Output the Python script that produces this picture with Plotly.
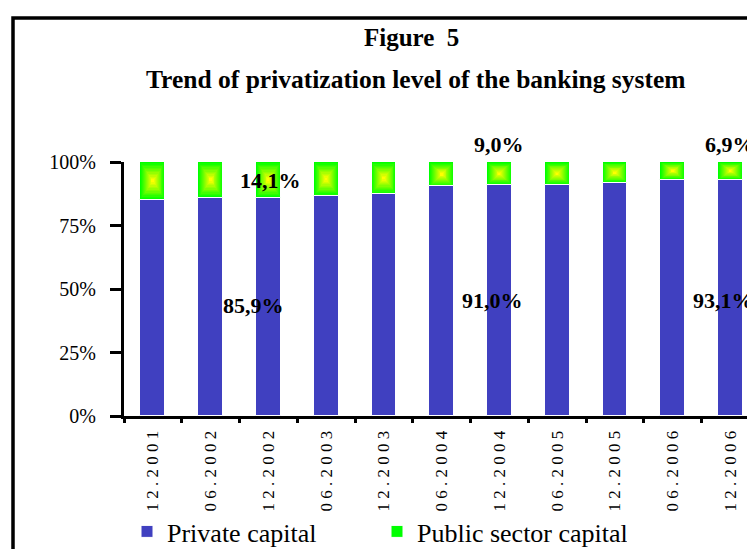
import plotly.graph_objects as go

# ---- data ----
periods = ["12.2001", "06.2002", "12.2002", "06.2003", "12.2003", "06.2004",
           "12.2004", "06.2005", "12.2005", "06.2006", "12.2006"]
private_capital = [85.1, 85.9, 85.9, 86.6, 87.4, 90.4, 91.0, 91.0, 91.8, 93.1, 93.1]
public_capital = [round(100 - v, 1) for v in private_capital]
y_ticks = [0, 25, 50, 75, 100]
y_tick_labels = ["0%", "25%", "50%", "75%", "100%"]
labels_public = ["14,1%", "9,0%", "6,9%"]
labels_private = ["85,9%", "91,0%", "93,1%"]
label_periods = ["12.2002", "12.2004", "12.2006"]

FONT = "Liberation Serif"
BLUE = "#4040C0"
BAR_W = 0.43

# geometry: page offset of 8px (body margin)
OFF = 8
W, H = 747, 541
L = 124 - OFF
T = 162 - OFF
BOTTOM_PAGE = 416
B = H - (BOTTOM_PAGE - OFF)
PW, PH = W - L, H - T - B

def px_x(page_px):
    return (page_px - OFF - L) / PW

def px_y(page_py):
    return (BOTTOM_PAGE - page_py) / PH

spaced = [" ".join(list(p)) for p in periods]

fig = go.Figure()
fig.add_trace(go.Bar(
    x=periods, y=private_capital, base=[0] * len(periods), width=BAR_W,
    name="Private capital", marker=dict(color=BLUE, line=dict(color="white", width=1)),
))
fig.add_trace(go.Bar(
    x=periods, y=public_capital, base=private_capital, width=BAR_W,
    name="Public sector capital", marker=dict(color="#00FF00", line=dict(color="white", width=1)),
))
# gradient layers (green edges -> yellow centre)
N = 12
for k in range(1, N + 1):
    f = k / N
    shrink = 0.92 * f
    r = int(round(255 * f))
    fig.add_trace(go.Bar(
        x=periods,
        y=[p * (1 - shrink) for p in public_capital],
        base=[pv + p * shrink / 2 for pv, p in zip(private_capital, public_capital)],
        width=BAR_W * (1 - shrink),
        marker=dict(color=f"rgb({r},255,0)", line=dict(width=0)),
        showlegend=False, hoverinfo="skip",
    ))

annotations = []
pub_y_page = [180, 145, 145]
pub_xshift = [2, 0, 0]
priv_y_page = [305, 300, 300]
priv_xshift = [-15, -7, -7]
for i, per in enumerate(label_periods):
    idx = periods.index(per)
    annotations.append(dict(x=idx, y=px_y(pub_y_page[i]), xref="x", yref="paper",
                            xanchor="center", yanchor="middle",
                            text=f"<b>{labels_public[i]}</b>", showarrow=False,
                            xshift=pub_xshift[i],
                            font=dict(family=FONT, size=22, color="black")))
    annotations.append(dict(x=idx, y=px_y(priv_y_page[i]), xref="x", yref="paper",
                            xanchor="center", yanchor="middle",
                            text=f"<b>{labels_private[i]}</b>", showarrow=False,
                            xshift=priv_xshift[i],
                            font=dict(family=FONT, size=22, color="black")))
annotations.append(dict(x=px_x(411), y=px_y(37), xref="paper", yref="paper",
                        xanchor="center", yanchor="middle",
                        text="<b>Figure  5</b>", showarrow=False,
                        font=dict(family=FONT, size=25, color="black")))
annotations.append(dict(x=px_x(416), y=px_y(80), xref="paper", yref="paper",
                        xanchor="center", yanchor="middle",
                        text="<b>Trend of privatization level of the banking system</b>",
                        showarrow=False, font=dict(family=FONT, size=25.5, color="black")))

fig.update_layout(
    width=W, height=H,
    margin=dict(l=L, r=0, t=T, b=B, pad=0, autoexpand=False),
    paper_bgcolor="white", plot_bgcolor="white",
    barmode="overlay",
    bargap=0,
    font=dict(family=FONT, color="black"),
    annotations=annotations,
    shapes=[dict(type="rect", xref="paper", yref="paper",
                 x0=px_x(13), x1=px_x(820), y0=px_y(640), y1=px_y(18),
                 line=dict(color="black", width=3.5), fillcolor="rgba(0,0,0,0)", layer="below")],
    legend=dict(orientation="h", xref="container", yref="container",
                x=(127 - OFF) / W, y=1 - (508 - OFF) / H, xanchor="left", yanchor="top",
                font=dict(family=FONT, size=26, color="black"),
                entrywidth=205, entrywidthmode="pixels",
                bgcolor="rgba(0,0,0,0)", itemclick=False),
    xaxis=dict(
        type="category", categoryorder="array", categoryarray=periods,
        range=[-0.5, -0.5 + (PW + 1) / 57.85],
        tickmode="array", tickvals=periods, ticktext=spaced,
        tickangle=-90, tickfont=dict(family=FONT, size=17, color="black"),
        showline=True, linecolor="black", linewidth=3,
        ticks="outside", ticklen=4, tickwidth=3, tickcolor="black",
        tickson="boundaries", showgrid=False, zeroline=False,
        ticklabelstandoff=5,
    ),
    yaxis=dict(
        range=[0, 100], tickmode="array", tickvals=y_ticks, ticktext=y_tick_labels,
        tickfont=dict(family=FONT, size=20, color="black"),
        showline=True, linecolor="black", linewidth=3,
        ticks="outside", ticklen=11, tickwidth=3, tickcolor="black",
        showgrid=False, zeroline=False, ticklabelstandoff=10,
    ),
)

fig.write_html("out.html")
